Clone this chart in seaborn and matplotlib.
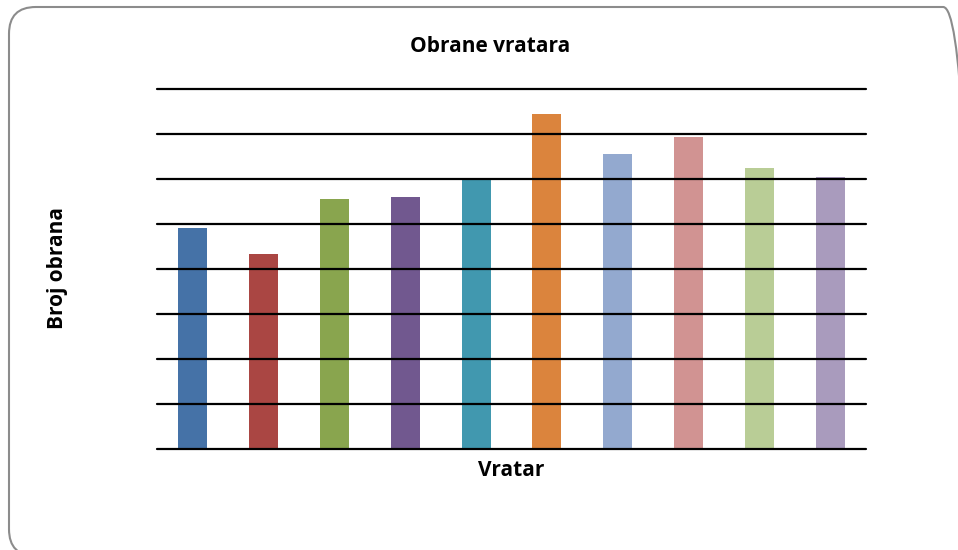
import matplotlib
matplotlib.use("Agg")
import matplotlib.pyplot as plt
import seaborn as sns
import pandas as pd
from matplotlib.patches import FancyBboxPatch

categories = ["V1", "V2", "V3", "V4", "V5", "V6", "V7", "V8", "V9", "V10"]
values = [4.91, 4.33, 5.56, 5.60, 6.00, 7.44, 6.56, 6.93, 6.24, 6.04]
colors = ["#4572A7", "#AA4643", "#89A54E", "#71588F", "#4198AF",
          "#DB843D", "#93A9CF", "#D19392", "#B9CD96", "#A99BBD"]

title = "Obrane vratara"
xlabel = "Vratar"
ylabel = "Broj obrana"

df = pd.DataFrame({"Vratar": categories, "Broj": values})

sns.set_theme(style="white")
plt.rcParams['font.family'] = ['Open Sans', 'DejaVu Sans']

fig = plt.figure(figsize=(9.58, 5.5), dpi=100)
W, H = 958, 550
ax = fig.add_axes([157 / W, 1 - 449 / H, (866 - 157) / W, (449 - 89) / H])

sns.barplot(data=df, x="Vratar", y="Broj", hue="Vratar", palette=colors,
            width=0.41, saturation=1, legend=False, linewidth=0, ax=ax)

ax.set_ylim(0, 8)
ax.set_xlim(-0.5, len(categories) - 0.5)
ax.set_yticks(range(0, 9))
ax.yaxis.grid(True, color="black", linewidth=1.6)
ax.set_axisbelow(False)
for gl in ax.get_ygridlines():
    gl.set_clip_on(False)
ax.set_xticks([])
ax.tick_params(left=False, bottom=False, labelleft=False, labelbottom=False)
for s in ax.spines.values():
    s.set_visible(False)
ax.set_xlabel("")
ax.set_ylabel("")

fig.text(490 / W, 1 - 47 / H, title, ha="center", va="center",
         fontsize=15, fontweight="bold", color="black")
fig.text(511 / W, 1 - 470 / H, xlabel, ha="center", va="center",
         fontsize=15, fontweight="bold", color="black")
fig.text(57 / W, 1 - 268 / H, ylabel, ha="center", va="center",
         fontsize=15, fontweight="bold", rotation=90, color="black")

box = FancyBboxPatch((9 / W, 1 - 556 / H), (970 - 9) / W, (556 - 7) / H,
                     boxstyle="round,pad=0,rounding_size=0.028",
                     transform=fig.transFigure, facecolor="none",
                     edgecolor="#8c8c8c", linewidth=1.5, clip_on=False,
                     mutation_aspect=W / H)
fig.patches.append(box)

fig.savefig("out.png", dpi=100)
